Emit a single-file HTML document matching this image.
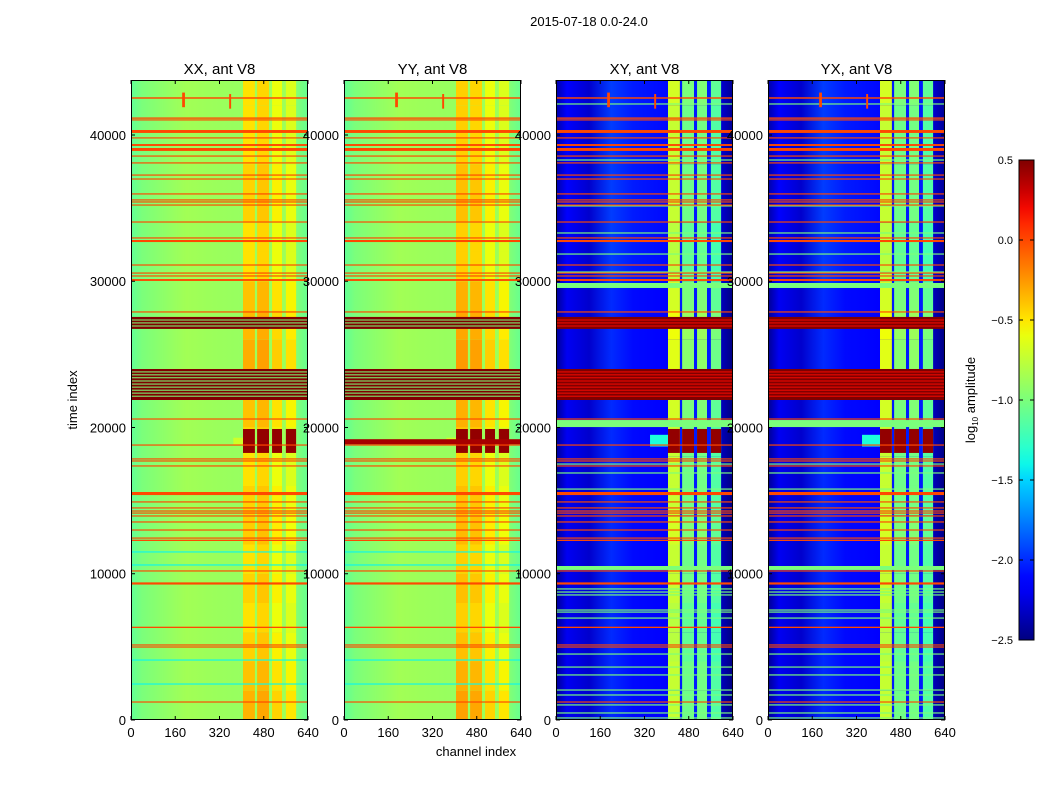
<!DOCTYPE html>
<html><head><meta charset="utf-8">
<style>
html,body{margin:0;padding:0;background:#fff;}
svg{display:block;font-family:"Liberation Sans","DejaVu Sans",sans-serif;}
</style></head>
<body>
<svg id="fig" width="1050" height="800" viewBox="0 0 1050 800" xmlns="http://www.w3.org/2000/svg">
<rect width="1050" height="800" fill="#fff"/>
<text x="589" y="26" font-size="13" text-anchor="middle">2015-07-18 0.0-24.0</text>
<g id="panels"></g>
<g id="overlay"></g>
<text x="476" y="756" font-size="13" text-anchor="middle">channel index</text>
<text x="77" y="400" font-size="13" text-anchor="middle" transform="rotate(-90 77 400)">time index</text>
<g id="cbar"></g>
</svg>
<script>
// ---- data ----
const panelTitles = ["XX, ant V8","YY, ant V8","XY, ant V8","YX, ant V8"];
const panelKinds = ["par","par","cross","cross"];
const xTicks = [0,160,320,480,640];
const yTicks = [0,10000,20000,30000,40000];
const cbTicks = [0.5,0.0,-0.5,-1.0,-1.5,-2.0,-2.5];
const channelBands = [[405,448],[456,499],[510,546],[560,597]];
const bgKnots = [0,40,120,200,280,400,600,640];
const bgPar = [-1.1,-1.0,-0.93,-0.86,-0.88,-0.9,-0.98,-1.08];
const bgCrossUpper = [-2.4,-2.15,-2.3,-1.95,-2.05,-2.1,-2.3,-2.45];
const bgCrossLower = [-2.45,-2.2,-2.3,-2.0,-2.1,-2.15,-2.35,-2.5];
const crossSplit = 29600;
const segBounds = [0,2000,4000,6000,8000,10000,12000,14000,16000,18000,20000,22000,24000,26000,28000,30000,32000,34000,36000,38000,40000,42000,43760];
const parSegVals = [-0.4,-0.45,-0.5,-0.55,-0.5,-0.55,-0.48,-0.5,-0.55,-0.55,-0.45,-0.38,-0.38,-0.42,-0.45,-0.55,-0.55,-0.5,-0.5,-0.55,-0.55,-0.55];
const parBandOffsets = [0.06,0.1,-0.04,-0.1];
const crossSegVals = [-0.95,-0.95,-1.0,-1.0,-0.95,-0.95,-0.9,-0.95,-0.95,-0.95,-0.9,-0.8,-0.85,-0.8,-0.9,-1.0,-1.0,-0.95,-0.95,-0.95,-0.95,-0.9];
const crossBandOffsets = [0.22,-0.1,-0.08,-0.2];
const parGapVal = -0.88;
const crossGapVal = -2.05;
const redLines = [[42480,42580],[41110,41200],[40990,41070],[40140,40340],[39760,39840],[39250,39380],[38910,39110],[38520,38600],[38050,38130],[37220,37300],[36950,37030],[35930,36010],[35520,35600],[35380,35460],[35170,35250],[34010,34090],[32920,33000],[32680,32820],[31070,31150],[30520,30600],[30320,30400],[30020,30150],[27860,27940],[20540,20620],[18760,18840],[17810,17890],[17670,17750],[17330,17410],[15380,15590],[14870,14950],[14460,14540],[14250,14330],[14110,14190],[13910,13990],[13500,13580],[12950,13030],[12400,12480],[12240,12330],[10150,10230],[9330,9410],[9260,9340],[6290,6380],[5090,5170],[4950,5030],[1190,1270]];
const redVal = 0.0;
const darkBlocks = [[26740,27560],[21880,24000]];
const darkVal = 0.5;
const blockSeps = [27350,27150,26940,23800,23600,23400,23180,22970,22760,22550,22350,22140];
const parSepVal = -1.0;
const crossSepVal = 0.2;
const hotRange = [18260,19900];
const hotVal = 0.45;
const yyHotLine = [18850,19200];
const parCyanLines = [11490,10600,4100,2460];
const parCyanVal = -1.4;
const crossGreenBands = [[29540,29880],[20030,20510],[10260,10530]];
const crossGreenLines = [42120,38290,35150,33300,31860,30630,17500,16890,15790,8960,8750,8550,7520,7380,6970,4510,3620,3080,2050,1710,1030,480,140];
const crossGreenVal = -1.0;
const spikes = [[185,195,41900,42900],[355,362,41800,42800]];
const spikeVal = 0.0;

// ---- geometry ----
const panelX = [131,344,556,768], PW = 177, PT = 80, PB = 720;
const tMax = 43760, cMax = 640;
const NS = "http://www.w3.org/2000/svg";
function Y(t){ return PB - t*(PB-PT)/tMax; }
function Xs(p,c){ return panelX[p] + c*PW/cMax; }
const jR=[[0,0],[0.35,0],[0.66,1],[0.89,1],[1,0.5]];
const jG=[[0,0],[0.125,0],[0.375,1],[0.64,1],[0.91,0],[1,0]];
const jB=[[0,0.5],[0.11,1],[0.34,1],[0.65,0],[1,0]];
function seg(s,x){ for(let i=0;i<s.length-1;i++){ if(x<=s[i+1][0]){ const f=(x-s[i][0])/(s[i+1][0]-s[i][0]); return s[i][1]+f*(s[i+1][1]-s[i][1]); } } return s[s.length-1][1]; }
function jet(v){
  let x = (v+2.5)/3; x = Math.max(0,Math.min(1,x));
  return `rgb(${Math.round(seg(jR,x)*255)},${Math.round(seg(jG,x)*255)},${Math.round(seg(jB,x)*255)})`;
}
function mk(tag, attrs, parent){
  const e = document.createElementNS(NS, tag);
  for (const k in attrs) e.setAttribute(k, attrs[k]);
  parent.appendChild(e); return e;
}
function cell(g,p,c1,c2,t1,t2,v,name){
  const y1 = Y(t2), y2 = Y(t1);
  const r = mk('rect',{x:Xs(p,c1),y:y1,width:Xs(p,c2)-Xs(p,c1),height:Math.max(1,y2-y1),fill:jet(v)},g);
  
  
  return r;
}
const svg = document.getElementById('fig');
const defs = mk('defs',{},svg);
const panels = document.getElementById('panels');
const overlay = document.getElementById('overlay');

function gradient(id, vals){
  const lg = mk('linearGradient',{id:id,x1:0,y1:0,x2:1,y2:0},defs);
  bgKnots.forEach((k,i)=>mk('stop',{offset:(k/cMax),'stop-color':jet(vals[i])},lg));
}
gradient('gPar', bgPar); gradient('gCU', bgCrossUpper); gradient('gCL', bgCrossLower);

for (let p=0;p<4;p++){
  const kind = panelKinds[p];
  const g = mk('g',{},panels);
  
  
  if (kind==='par'){
    const r = mk('rect',{x:Xs(p,0),y:Y(tMax),width:PW,height:Y(0)-Y(tMax),fill:'url(#gPar)'},g);
     
  } else {
    const r1 = mk('rect',{x:Xs(p,0),y:Y(tMax),width:PW,height:Y(crossSplit)-Y(tMax),fill:'url(#gCU)'},g);
     
    const r2 = mk('rect',{x:Xs(p,0),y:Y(crossSplit),width:PW,height:Y(0)-Y(crossSplit),fill:'url(#gCL)'},g);
     
  }
  const gapV = kind==='par'?parGapVal:crossGapVal;
  for (let b=0;b<channelBands.length-1;b++){
    cell(g,p,channelBands[b][1],channelBands[b+1][0],0,tMax,gapV,'band-gap');
  }
  const segV = kind==='par'?parSegVals:crossSegVals;
  const offs = kind==='par'?parBandOffsets:crossBandOffsets;
  for (let s=0;s<segV.length;s++){
    channelBands.forEach((bd,b)=>{
      cell(g,p,bd[0],bd[1],segBounds[s],segBounds[s+1],segV[s]+offs[b]+(p===1&&b===0?0.06:0),'band-cell');
    });
  }
  if (kind==='cross') cell(g,p,340,405,18700,19500,-1.35,'hot-halo');
  else cell(g,p,370,405,18800,19300,-0.7,'hot-halo');
  channelBands.forEach(bd=>cell(g,p,bd[0],bd[1],hotRange[0],hotRange[1],hotVal,'hot-cell'));
  if (p===1){ cell(g,p,0,cMax,yyHotLine[0],yyHotLine[1],0.4,'hot-line'); }
  if (kind==='cross'){
    crossGreenBands.forEach(b=>cell(g,p,0,cMax,b[0],b[1],crossGreenVal,'green-band'));
    crossGreenLines.forEach(t=>cell(g,p,0,cMax,t-40,t+40,crossGreenVal,'green-line'));
  } else {
    parCyanLines.forEach(t=>cell(g,p,0,cMax,t-40,t+40,parCyanVal,'cyan-line'));
  }
  darkBlocks.forEach(b=>cell(g,p,0,cMax,b[0],b[1],darkVal,'flag-block'));
  blockSeps.forEach(t=>cell(g,p,0,cMax,t-35,t+35,kind==='par'?parSepVal:crossSepVal,'block-separator'));
  redLines.forEach(l=>cell(g,p,0,cMax,l[0],l[1],redVal,'flag-line'));
  spikes.forEach(s=>cell(g,p,s[0],s[1],s[2],s[3],spikeVal,'rfi-spike'));
  const fr = mk('rect',{x:panelX[p]+0.5,y:PT+0.5,width:PW-1,height:PB-PT-1,fill:'none',stroke:'#000','stroke-width':1},overlay);
   
  const tt = mk('text',{x:panelX[p]+PW/2,y:74,'font-size':15,'text-anchor':'middle'},overlay);
  tt.textContent = panelTitles[p];
   
  xTicks.forEach(v=>{
    const x = Xs(p,v);
    mk('line',{x1:x,y1:PB,x2:x,y2:PB-4,stroke:'#000'},overlay);
    mk('line',{x1:x,y1:PT,x2:x,y2:PT+4,stroke:'#000'},overlay);
    const lb = mk('text',{x:x,y:737,'font-size':13,'text-anchor':'middle'},overlay);
    lb.textContent = v;
     
  });
  yTicks.forEach(v=>{
    const y = Y(v);
    mk('line',{x1:panelX[p],y1:y,x2:panelX[p]+4,y2:y,stroke:'#000'},overlay);
    mk('line',{x1:panelX[p]+PW,y1:y,x2:panelX[p]+PW-4,y2:y,stroke:'#000'},overlay);
    const lb = mk('text',{x:panelX[p]-5,y:y+5,'font-size':13,'text-anchor':'end'},overlay);
    lb.textContent = v;
     
  });
}

// ---- colorbar ----
const cb = document.getElementById('cbar');
const CBX = 1019, CBW = 15, CBT = 160, CBB = 640;
function CY(v){ return CBB - (v+2.5)/3*(CBB-CBT); }
const lgc = mk('linearGradient',{id:'gCB',x1:0,y1:1,x2:0,y2:0},defs);
for (let i=0;i<=30;i++){ const v=-2.5+i*0.1; mk('stop',{offset:(v+2.5)/3,'stop-color':jet(v)},lgc); }
const cbr = mk('rect',{x:CBX,y:CBT,width:CBW,height:CBB-CBT,fill:'url(#gCB)',stroke:'#000','stroke-width':1},cb);
 
cbTicks.forEach(v=>{
  const y = CY(v);
  mk('line',{x1:CBX,y1:y,x2:CBX+4,y2:y,stroke:'#000'},cb);
  mk('line',{x1:CBX+CBW,y1:y,x2:CBX+CBW-4,y2:y,stroke:'#000'},cb);
  const lb = mk('text',{x:1013,y:y+4,'font-size':11,'text-anchor':'end'},cb);
  lb.textContent = v.toFixed(1).replace('-','\u2212');
   
});
const cbl = mk('text',{x:975,y:400,'font-size':13,'text-anchor':'middle',transform:'rotate(-90 975 400)'},cb);
cbl.innerHTML = 'log<tspan font-size="8" dy="3">10</tspan><tspan dy="-3"> amplitude</tspan>';
 
</script>
</body></html>
